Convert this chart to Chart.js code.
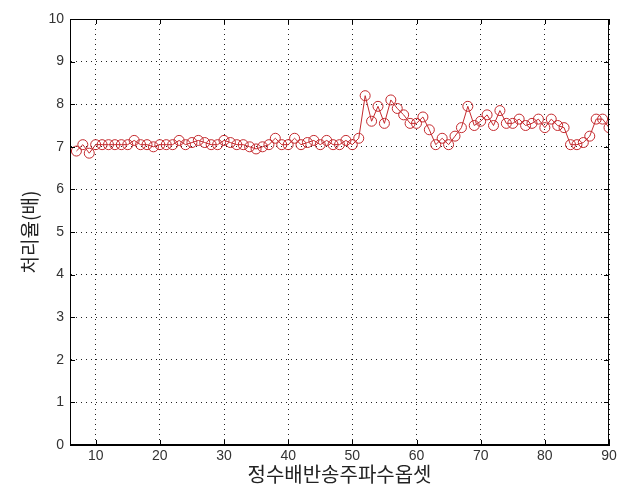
<!DOCTYPE html>
<html>
<head>
<meta charset="utf-8">
<script src="https://cdn.jsdelivr.net/npm/chart.js@4.4.1/dist/chart.umd.min.js"></script>
<style>
  html, body { margin: 0; padding: 0; background: #fff; }
  #wrap { width: 624px; height: 496px; }
</style>
</head>
<body>
<div id="wrap"><canvas id="chart" width="624" height="496"></canvas></div>
<script>
const xValues = [7, 8, 9, 10, 11, 12, 13, 14, 15, 16, 17, 18, 19, 20, 21, 22, 23, 24, 25, 26, 27, 28, 29, 30,
  31, 32, 33, 34, 35, 36, 37, 38, 39, 40, 41, 42, 43, 44, 45, 46, 47, 48, 49, 50, 51, 52, 53, 54, 55, 56, 57,
  58, 59, 60, 61, 62, 63, 64, 65, 66, 67, 68, 69, 70, 71, 72, 73, 74, 75, 76, 77, 78, 79, 80, 81, 82, 83, 84,
  85, 86, 87, 88, 89, 90];
const rates = [6.9, 7.05, 6.85, 7.05, 7.05, 7.05, 7.05, 7.05, 7.05, 7.15, 7.05, 7.05, 7.0, 7.05, 7.05, 7.05,
  7.15, 7.05, 7.1, 7.15, 7.1, 7.05, 7.05, 7.15, 7.1, 7.05, 7.05, 7.0, 6.95, 7.0, 7.05, 7.2, 7.05, 7.05, 7.2,
  7.05, 7.1, 7.15, 7.05, 7.15, 7.05, 7.05, 7.15, 7.05, 7.2, 8.2, 7.6, 7.95, 7.55, 8.1, 7.9, 7.75, 7.55, 7.55,
  7.7, 7.4, 7.05, 7.2, 7.05, 7.25, 7.45, 7.95, 7.5, 7.6, 7.75, 7.5, 7.85, 7.55, 7.55, 7.65, 7.5, 7.55, 7.65,
  7.45, 7.65, 7.5, 7.45, 7.05, 7.05, 7.1, 7.25, 7.65, 7.65, 7.45];
const xTicks = [10, 20, 30, 40, 50, 60, 70, 80, 90];
const xTitle = '정수배반송주파수옵셋';
const yTitle = '처리율(배)';

const points = xValues.map((x, i) => ({ x: x, y: rates[i] }));

// matlab style box with inward ticks
const boxPlugin = {
  id: 'box',
  afterDraw(chart) {
    const c = chart.ctx, a = chart.chartArea;
    const xs = chart.scales.x, ys = chart.scales.y;
    c.save();
    c.strokeStyle = '#000';
    c.lineWidth = 1;
    c.strokeRect(a.left + 0.5, a.top + 0.5, a.right - a.left - 1, a.bottom - a.top - 1);
    c.beginPath();
    xs.ticks.forEach(t => {
      const px = Math.round(xs.getPixelForValue(t.value)) + 0.5;
      c.moveTo(px, a.bottom); c.lineTo(px, a.bottom - 5);
      c.moveTo(px, a.top); c.lineTo(px, a.top + 5);
    });
    ys.ticks.forEach(t => {
      const py = Math.round(ys.getPixelForValue(t.value)) + 0.5;
      c.moveTo(a.left, py); c.lineTo(a.left + 5, py);
      c.moveTo(a.right, py); c.lineTo(a.right - 5, py);
    });
    c.stroke();
    c.restore();
  }
};

const ctx = document.getElementById('chart').getContext('2d');
new Chart(ctx, {
  type: 'line',
  data: {
    datasets: [{
      data: points,
      borderColor: '#c42a2e',
      borderWidth: 1,
      pointStyle: 'circle',
      pointRadius: 5,
      pointBorderWidth: 1,
      pointBorderColor: '#c42a2e',
      pointBackgroundColor: 'rgba(0,0,0,0)',
      tension: 0,
      fill: false
    }]
  },
  options: {
    responsive: false,
    animation: false,
    layout: { padding: { top: 19, right: 15, left: 0, bottom: 0 } },
    plugins: { legend: { display: false }, tooltip: { enabled: false } },
    scales: {
      x: {
        type: 'linear',
        min: 6,
        max: 90,
        afterBuildTicks(scale) {
          scale.ticks = xTicks.map(v => ({ value: v }));
        },
        afterFit(scale) { scale.height = 51; },
        grid: { color: '#222', lineWidth: 1, drawTicks: false },
        border: { display: true, color: '#000', dash: [1, 4] },
        ticks: { color: '#333', padding: 3, maxRotation: 0, font: { family: 'Liberation Sans', size: 14 } },
        title: { display: true, text: xTitle, color: '#222', padding: { top: 0, bottom: 10 },
          font: { family: 'Noto Sans CJK KR', size: 20 } }
      },
      y: {
        min: 0,
        max: 10,
        ticks: { stepSize: 1, color: '#333', padding: 6, font: { family: 'Liberation Sans', size: 14 } },
        afterFit(scale) { scale.width = 70; },
        grid: { color: '#222', lineWidth: 1, drawTicks: false },
        border: { display: true, color: '#000', dash: [1, 4] },
        title: { display: true, text: yTitle, color: '#222', padding: { top: 18, bottom: 0 },
          font: { family: 'Noto Sans CJK KR', size: 19 } }
      }
    }
  },
  plugins: [boxPlugin]
});
</script>
</body>
</html>
